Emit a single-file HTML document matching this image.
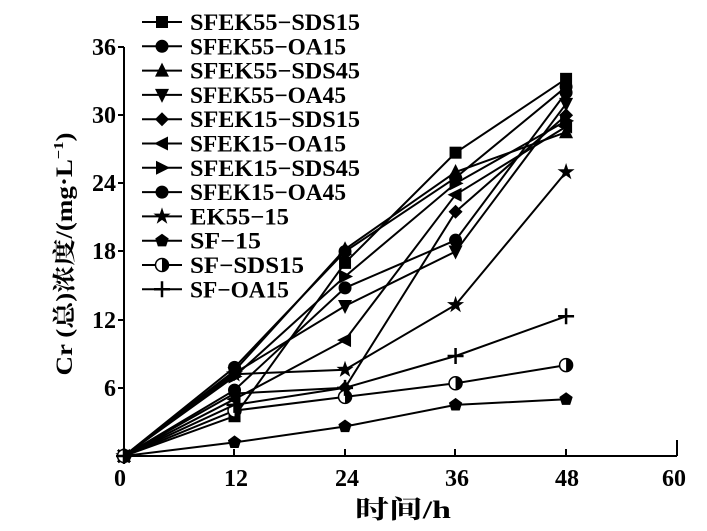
<!DOCTYPE html>
<html><head><meta charset="utf-8"><style>
html,body{margin:0;padding:0;background:#fff;}
svg{display:block;font-family:"Liberation Serif","Noto Serif CJK SC",serif;font-weight:bold;}
</style></head><body>
<svg id="c" width="707" height="531" viewBox="0 0 707 531" xmlns="http://www.w3.org/2000/svg">
<g stroke="#000" stroke-width="2" fill="none">
<line x1="124" y1="456" x2="677" y2="456"/>
<line x1="124" y1="456" x2="124" y2="47"/>
<path d="M124,388H118M124,320H118M124,251H118M124,183H118M124,115H118M124,47H118"/>
<path d="M234,456V449M345,456V449M455,456V449M566,456V449M677,456V440"/>
</g>
<g font-size="24" fill="#000" text-anchor="middle">
<text x="120" y="486">0</text><text x="236" y="486">12</text><text x="347" y="486">24</text>
<text x="457" y="486">36</text><text x="567" y="486">48</text><text x="674" y="486">60</text>
</g>
<g font-size="24" fill="#000" text-anchor="end">
<text x="116" y="396">6</text><text x="116" y="328">12</text><text x="116" y="259">18</text>
<text x="116" y="191">24</text><text x="116" y="123">30</text><text x="116" y="55">36</text>
</g>
<text x="403" y="518" font-size="25" text-anchor="middle" textLength="96" lengthAdjust="spacingAndGlyphs">时间/h</text>
<text transform="translate(72,254) rotate(-90)" font-size="23" text-anchor="middle" textLength="243" lengthAdjust="spacingAndGlyphs">Cr (总)浓度/(mg·L<tspan font-size="14" dy="-9">−1</tspan><tspan dy="9">)</tspan></text>
<g id="g"></g>
</svg>
<script>
var X=function(t){return 124+t*9.21},Y=function(v){return 456-v*11.36};
var S=[
["SFEK55−SDS15","sq",[0,3.5,17,26.7,33.2]],
["SFEK55−OA15","ci",[0,7.8,18,24.5,32.5]],
["SFEK55−SDS45","up",[0,7.5,18.2,25,28.5]],
["SFEK55−OA45","dn",[0,7.3,13.2,18,31]],
["SFEK15−SDS15","di",[0,5.5,6,21.5,30]],
["SFEK15−OA15","lt",[0,5,10.2,23,29]],
["SFEK15−SDS45","rt",[0,7,15.8,24,29.5]],
["SFEK15−OA45","oc",[0,5.8,14.8,19,32]],
["EK55−15","st",[0,7.2,7.6,13.3,25]],
["SF−15","pe",[0,1.2,2.6,4.5,5]],
["SF−SDS15","hc",[0,4,5.2,6.4,8]],
["SF−OA15","pl",[0,4.5,6,8.8,12.3]]];
function mk(t,x,y){
 var s=6;
 switch(t){
 case"sq":return'<rect x="'+(x-s)+'" y="'+(y-s)+'" width="12" height="12"/>';
 case"ci":return'<circle cx="'+x+'" cy="'+y+'" r="6.5"/>';
 case"oc":return'<circle cx="'+x+'" cy="'+y+'" r="6.5"/>';
 case"up":return'<polygon points="'+x+','+(y-8)+' '+(x-7)+','+(y+6)+' '+(x+7)+','+(y+6)+'"/>';
 case"dn":return'<polygon points="'+x+','+(y+8)+' '+(x-7)+','+(y-6)+' '+(x+7)+','+(y-6)+'"/>';
 case"lt":return'<polygon points="'+(x-8)+','+y+' '+(x+6)+','+(y-7)+' '+(x+6)+','+(y+7)+'"/>';
 case"rt":return'<polygon points="'+(x+8)+','+y+' '+(x-6)+','+(y-7)+' '+(x-6)+','+(y+7)+'"/>';
 case"di":return'<polygon points="'+x+','+(y-7)+' '+(x+7)+','+y+' '+x+','+(y+7)+' '+(x-7)+','+y+'"/>';
 case"pe":var p=[];for(var i=0;i<5;i++){var a=-Math.PI/2+i*2*Math.PI/5;p.push((x+7*Math.cos(a)).toFixed(1)+','+(y+7*Math.sin(a)).toFixed(1));}return'<polygon points="'+p.join(' ')+'"/>';
 case"st":var p=[];for(var i=0;i<10;i++){var a=-Math.PI/2+i*Math.PI/5,r=i%2?3.5:9;p.push((x+r*Math.cos(a)).toFixed(1)+','+(y+r*Math.sin(a)).toFixed(1));}return'<polygon points="'+p.join(' ')+'"/>';
 case"hc":return'<circle cx="'+x+'" cy="'+y+'" r="6.5" fill="#fff" stroke="#000" stroke-width="1.5"/><path d="M'+x+','+(y-6.5)+' A6.5,6.5 0 0 1 '+x+','+(y+6.5)+' Z"/>';
 case"pl":return'<path d="M'+(x-8)+','+y+'H'+(x+8)+'M'+x+','+(y-8)+'V'+(y+8)+'" stroke="#000" stroke-width="2.5"/>';
 }}
var h='',T=[0,12,24,36,48];
S.forEach(function(s,k){
 var pts=s[2].map(function(v,i){return X(T[i]).toFixed(1)+','+Y(v).toFixed(1)}).join(' ');
 h+='<polyline points="'+pts+'" fill="none" stroke="#000" stroke-width="2"/>';
 s[2].forEach(function(v,i){h+=mk(s[1],X(T[i]),Y(v));});
 var ly=22+k*24.3;
 h+='<line x1="142" y1="'+ly+'" x2="182" y2="'+ly+'" stroke="#000" stroke-width="2"/>'+mk(s[1],162,ly);
 var w=s[0].length*14.2;
 h+='<text x="190" y="'+(ly+8)+'" font-size="23" textLength="'+w.toFixed(0)+'" lengthAdjust="spacingAndGlyphs">'+s[0]+'</text>';
});
document.getElementById('g').innerHTML=h;
</script>
</body></html>
